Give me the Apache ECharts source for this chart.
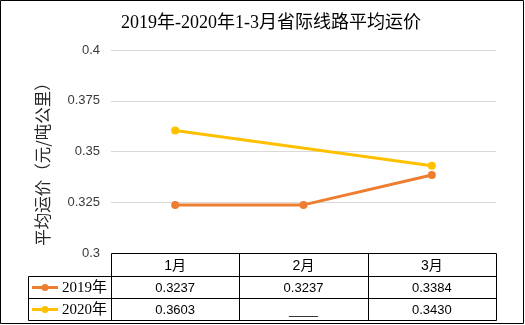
<!DOCTYPE html>
<html>
<head>
<meta charset="utf-8">
<script src="https://cdn.jsdelivr.net/npm/echarts@6/dist/echarts.min.js"></script>
<style>
  html, body { margin: 0; padding: 0; background: #fff; }
  #chart { width: 525px; height: 325px; }
</style>
</head>
<body>
<div id="chart"></div>
<script>
// Monthly average freight rate on inter-provincial routes
const titleText = '2019年-2020年1-3月省际线路平均运价';
const yAxisTitle = '平均运价（元/吨公里）';
const categories = ['1月', '2月', '3月'];
const seriesNames = ['2019年', '2020年'];
const rates2019 = [0.3237, 0.3237, 0.3384];
const rates2020 = [0.3603, null, 0.3430];
const yMin = 0.3;
const yMax = 0.4;
const yStep = 0.025;
const missingText = '____';

const colors = ['#ED7D31', '#FFC000'];
const seriesData = [rates2019, rates2020];

const chart = echarts.init(document.getElementById('chart'), null, { renderer: 'canvas' });

const grid = { left: 111, right: 29, top: 50, bottom: 72 };

chart.setOption({
  animation: false,
  backgroundColor: '#fff',
  grid: grid,
  xAxis: {
    type: 'category',
    data: categories,
    boundaryGap: true,
    axisLine: { show: false },
    axisTick: { show: false },
    axisLabel: { show: false },
    splitLine: { show: false }
  },
  yAxis: {
    type: 'value',
    min: yMin,
    max: yMax,
    interval: yStep,
    axisLine: { show: false },
    axisTick: { show: false },
    axisLabel: {
      margin: 11,
      fontSize: 13,
      fontFamily: 'Liberation Sans, Arial, sans-serif',
      color: '#3a3a3a'
    },
    splitLine: { lineStyle: { color: '#D9D9D9', width: 1 } }
  },
  series: seriesNames.map((name, i) => ({
    name: name,
    type: 'line',
    data: seriesData[i],
    connectNulls: true,
    symbol: 'circle',
    symbolSize: 8,
    lineStyle: { color: colors[i], width: 3 },
    itemStyle: { color: colors[i] },
    z: 3 - i
  }))
});

// Data table under the plot, aligned with the category bands
function buildTable() {
  const centers = categories.map((c, i) => chart.convertToPixel({ xAxisIndex: 0 }, i));
  const band = centers.length > 1 ? centers[1] - centers[0] : 384;
  const xs = [centers[0] - band / 2];
  centers.forEach(c => xs.push(c + band / 2));
  const xL = Math.round(xs[0]) + 0.5;
  const xR = Math.round(xs[xs.length - 1]) + 0.5;
  const legendLeft = 28.5;
  const yTop = Math.round(chart.convertToPixel({ yAxisIndex: 0 }, yMin)) + 0.5;
  const rowY = [yTop, yTop + 23, yTop + 45, yTop + 67];

  const line = (x1, y1, x2, y2) => ({
    type: 'line',
    shape: { x1, y1, x2, y2 },
    style: { stroke: '#000', lineWidth: 1 },
    z: 10
  });
  const els = [];
  els.push(line(xL, rowY[0], xR, rowY[0]));
  for (let r = 1; r < rowY.length; r++) els.push(line(legendLeft, rowY[r], xR, rowY[r]));
  els.push(line(legendLeft, rowY[1], legendLeft, rowY[3]));
  xs.forEach(x => {
    const xx = Math.round(x) + 0.5;
    els.push(line(xx, rowY[0], xx, rowY[3]));
  });

  // header row
  categories.forEach((c, i) => {
    els.push({
      type: 'text',
      x: centers[i], y: (rowY[0] + rowY[1]) / 2 + 1,
      style: {
        text: c, fill: '#000', align: 'center', verticalAlign: 'middle',
        font: '14px "Liberation Sans", "Noto Sans CJK SC", sans-serif'
      },
      z: 10
    });
  });

  // one row per series: legend key + values
  seriesNames.forEach((name, s) => {
    const yMid = (rowY[s + 1] + rowY[s + 2]) / 2;
    els.push({
      type: 'line',
      shape: { x1: 32, y1: yMid, x2: 58, y2: yMid },
      style: { stroke: colors[s], lineWidth: 3 },
      z: 10
    });
    els.push({
      type: 'circle',
      shape: { cx: 45, cy: yMid, r: 3.5 },
      style: { fill: colors[s] },
      z: 11
    });
    els.push({
      type: 'text',
      x: 62, y: yMid + 1,
      style: {
        text: name, fill: '#000', align: 'left', verticalAlign: 'middle',
        font: '15px "Liberation Serif", "Noto Sans CJK SC", serif'
      },
      z: 10
    });
    seriesData[s].forEach((v, i) => {
      els.push({
        type: 'text',
        x: centers[i], y: yMid + 1,
        style: {
          text: v == null ? missingText : v.toFixed(4),
          fill: '#000', align: 'center', verticalAlign: 'middle',
          font: '13px "Liberation Sans", Arial, sans-serif'
        },
        z: 10
      });
    });
  });

  // chart title
  els.push({
    type: 'text',
    x: 271, y: 23,
    style: {
      text: titleText, fill: '#000', align: 'center', verticalAlign: 'middle',
      font: '18px "Liberation Serif", "Noto Sans CJK SC", serif'
    },
    z: 10
  });

  // vertical axis title
  els.push({
    type: 'text',
    x: 43, y: 160,
    rotation: Math.PI / 2,
    style: {
      text: yAxisTitle, fill: '#262626', align: 'center', verticalAlign: 'middle',
      font: '16.5px "Noto Sans CJK SC", sans-serif'
    },
    z: 10
  });

  // outer frame
  els.push({
    type: 'rect',
    shape: { x: 0.5, y: 0.5, width: 523, height: 323 },
    style: { fill: null, stroke: '#000', lineWidth: 1 },
    z: 12
  });

  chart.setOption({ graphic: { elements: els } });
}

buildTable();
</script>
</body>
</html>
